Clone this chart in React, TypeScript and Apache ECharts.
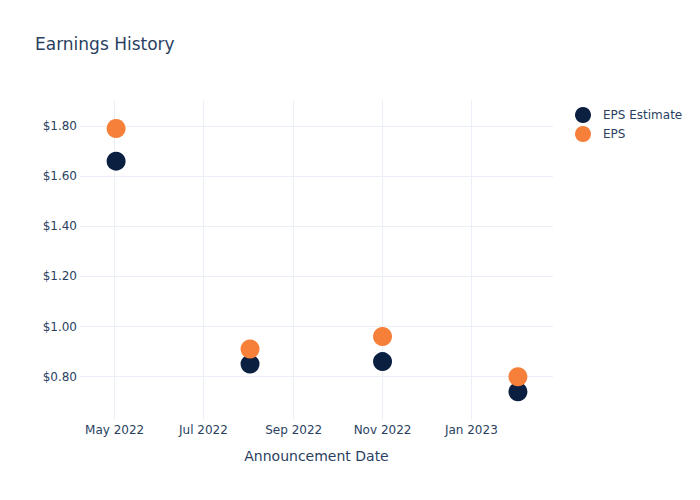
import React, { useEffect, useRef } from 'react';
import * as echarts from 'echarts';

const announcementDates = ['2022-05-02', '2022-08-02', '2022-11-01', '2023-02-02'];
const epsEstimate = [1.66, 0.85, 0.86, 0.74];
const epsActual = [1.79, 0.91, 0.96, 0.8];
const xTickDates = ['2022-05-01', '2022-07-01', '2022-09-01', '2022-11-01', '2023-01-01'];
const yTickValues = [0.8, 1.0, 1.2, 1.4, 1.6, 1.8];
const xRange = ['2022-04-07T05:00:00Z', '2023-02-26T02:00:00Z'];
const yRange = [0.627, 1.904];

const MONTHS = ['Jan', 'Feb', 'Mar', 'Apr', 'May', 'Jun', 'Jul', 'Aug', 'Sep', 'Oct', 'Nov', 'Dec'];
const ts = (s: string) => Date.parse(s.length === 10 ? s + 'T00:00:00Z' : s);

const FONT = 'DejaVu Sans';
const TEXT = '#2a3f5f';
const GRID = '#ebf0f8';

export default function App() {
  const ref = useRef<HTMLDivElement>(null);
  useEffect(() => {
    if (!ref.current) return;
    const chart = echarts.init(ref.current, undefined, { renderer: 'svg' });
    const xTicks = xTickDates.map(ts);
    chart.setOption({
      animation: false,
      backgroundColor: '#fff',
      textStyle: { fontFamily: FONT },
      title: {
        text: 'Earnings History',
        left: 35,
        top: 35,
        padding: 0,
        textStyle: { fontFamily: FONT, fontSize: 17, fontWeight: 'normal', color: TEXT },
      },
      legend: {
        orient: 'vertical',
        left: 575,
        top: 107,
        padding: 0,
        itemWidth: 16,
        itemHeight: 16,
        itemGap: 3,
        icon: 'circle',
        data: ['EPS Estimate', 'EPS'],
        textStyle: { fontFamily: FONT, fontSize: 12, color: TEXT, padding: [0, 0, 0, 7] },
      },
      grid: { left: 80, right: 147, top: 100, bottom: 80, containLabel: false },
      xAxis: {
        type: 'value',
        min: ts(xRange[0]),
        max: ts(xRange[1]),
        name: 'Announcement Date',
        nameLocation: 'middle',
        nameGap: 29,
        nameTextStyle: { fontFamily: FONT, fontSize: 14, color: TEXT },
        axisLine: { show: false },
        axisTick: { show: false, customValues: xTicks },
        splitLine: { show: true, lineStyle: { color: GRID, width: 1 } },
        axisLabel: {
          customValues: xTicks,
          margin: 4,
          fontFamily: FONT,
          fontSize: 12,
          color: TEXT,
          formatter: (v: number) => {
            const d = new Date(v);
            return MONTHS[d.getUTCMonth()] + ' ' + d.getUTCFullYear();
          },
        },
      },
      yAxis: {
        type: 'value',
        min: yRange[0],
        max: yRange[1],
        axisLine: { show: false },
        axisTick: { show: false, customValues: yTickValues },
        splitLine: { show: true, lineStyle: { color: GRID, width: 1 } },
        axisLabel: {
          customValues: yTickValues,
          margin: 3,
          fontFamily: FONT,
          fontSize: 12,
          color: TEXT,
          formatter: (v: number) => '$' + v.toFixed(2),
        },
      },
      series: [
        {
          name: 'EPS Estimate',
          type: 'scatter',
          symbol: 'circle',
          symbolSize: 19,
          itemStyle: { color: '#0b1f41', opacity: 1 },
          data: announcementDates.map((d, i) => [ts(d), epsEstimate[i]]),
        },
        {
          name: 'EPS',
          type: 'scatter',
          symbol: 'circle',
          symbolSize: 19,
          itemStyle: { color: '#f6803a', opacity: 1 },
          data: announcementDates.map((d, i) => [ts(d), epsActual[i]]),
        },
      ],
    });
    return () => chart.dispose();
  }, []);
  return <div ref={ref} style={{ width: 700, height: 500, position: 'absolute', left: 0, top: 0 }} />;
}
